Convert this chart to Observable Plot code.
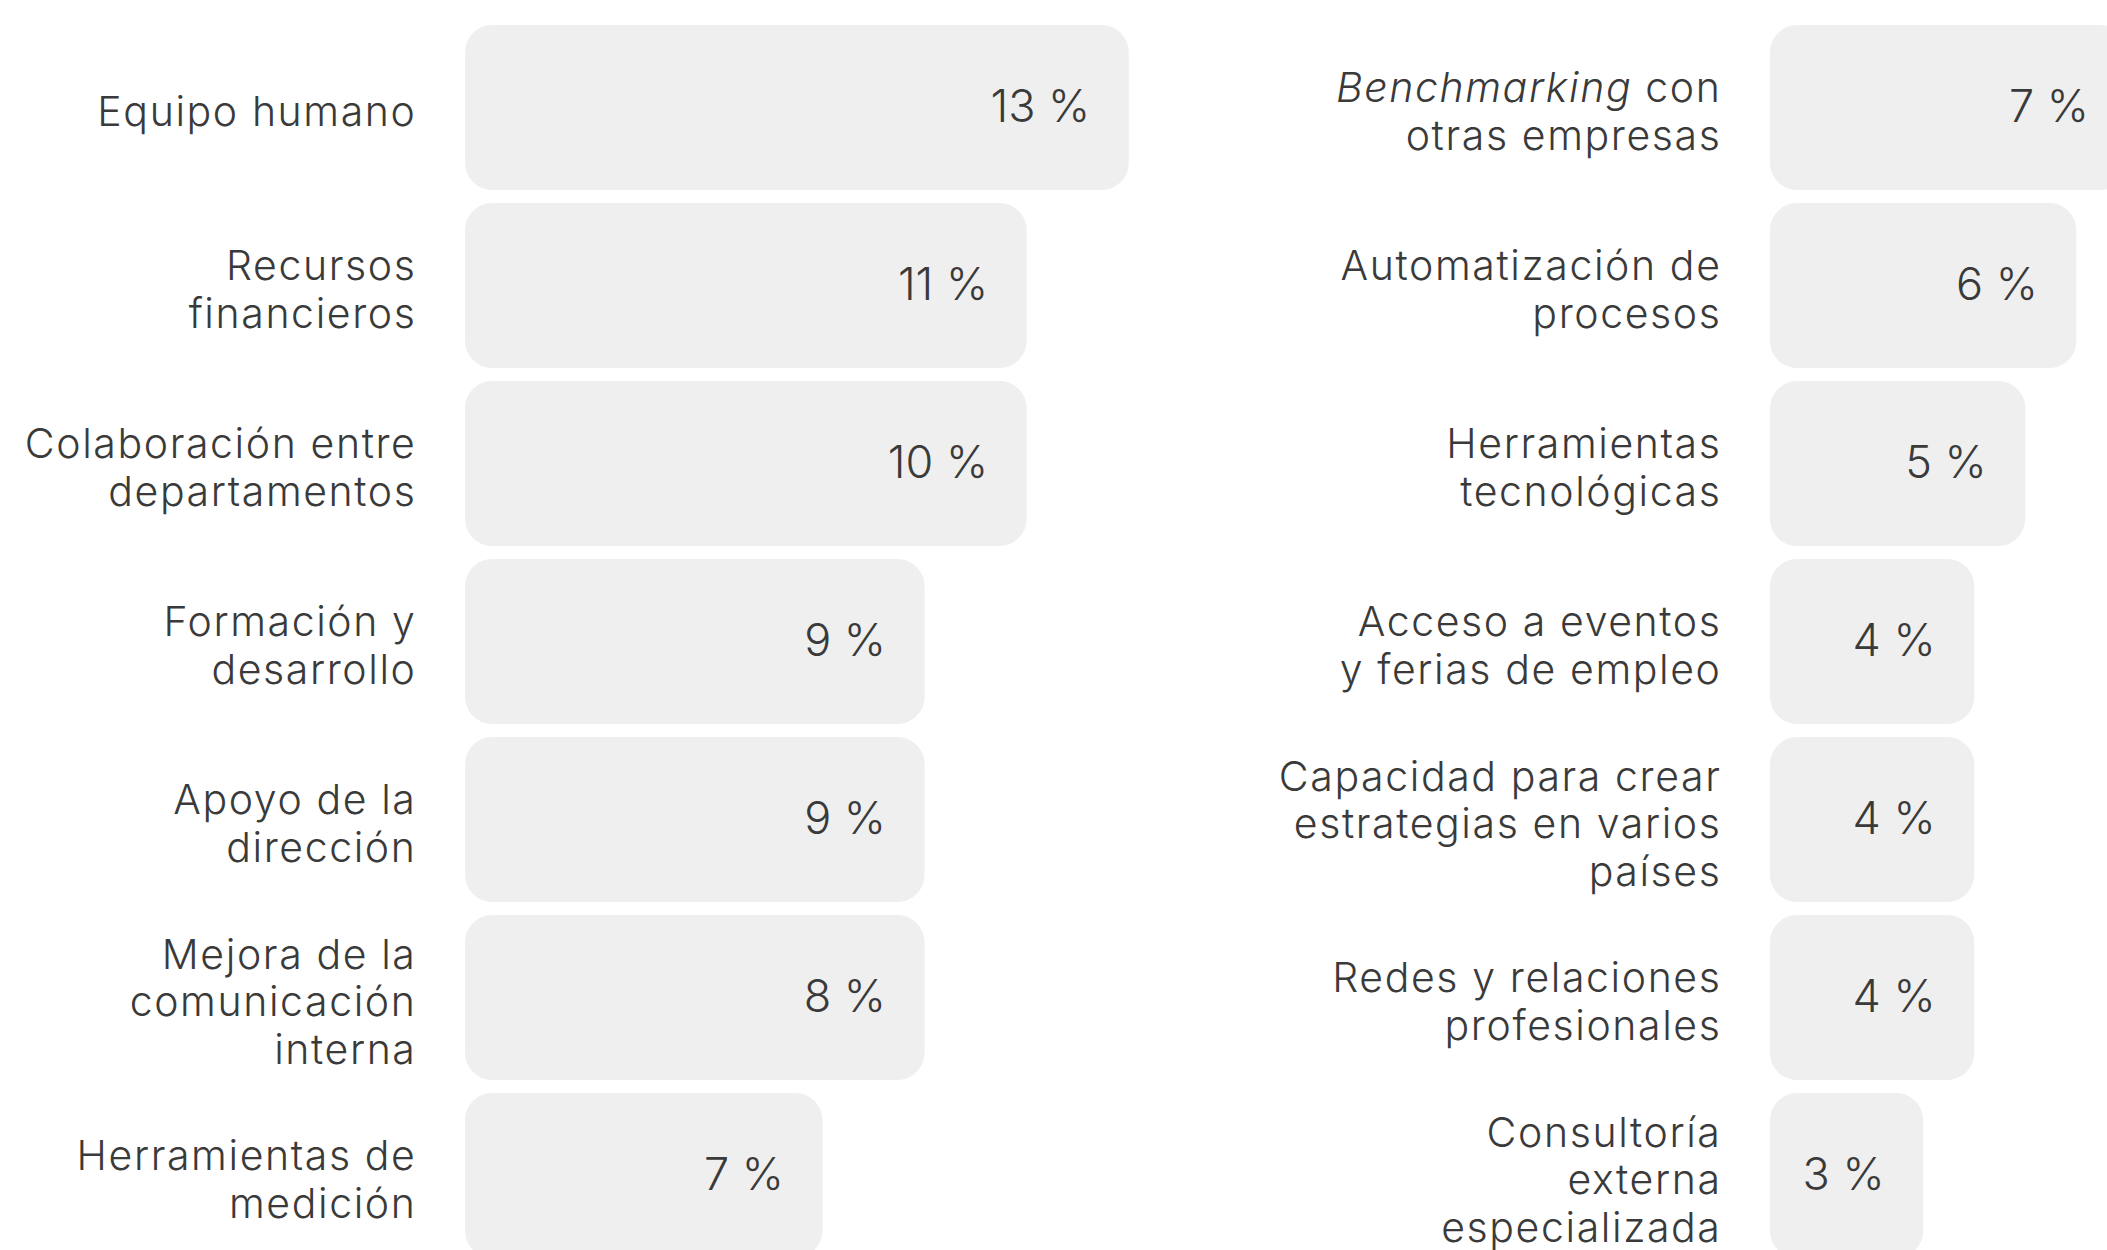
<!DOCTYPE html>
<html><head><meta charset="utf-8">
<script src="https://cdn.jsdelivr.net/npm/d3@7"></script>
<script src="https://cdn.jsdelivr.net/npm/@observablehq/plot@0.6"></script>
<style>
html,body{margin:0;padding:0;background:#fff;overflow:hidden;}
#chart{display:flex;width:2107px;height:1250px;}
#chart svg{overflow:hidden;display:block;}
</style></head><body><div id="chart"></div>
<script>
const leftCategories = ["Equipo humano", "Recursos\nfinancieros", "Colaboración entre\ndepartamentos", "Formación y\ndesarrollo", "Apoyo de la\ndirección", "Mejora de la\ncomunicación\ninterna", "Herramientas de\nmedición"];
const leftValues = [13, 11, 10, 9, 9, 8, 7];
const leftBarLengths = [13, 11, 11, 9, 9, 9, 7];

const rightCategories = ["Benchmarking con\notras empresas", "Automatización de\nprocesos", "Herramientas\ntecnológicas", "Acceso a eventos\ny ferias de empleo", "Capacidad para crear\nestrategias en varios\npaíses", "Redes y relaciones\nprofesionales", "Consultoría\nexterna\nespecializada"];
const rightValues = [7, 6, 5, 4, 4, 4, 3];
const rightBarLengths = [7, 6, 5, 4, 4, 4, 3];

const FONT = "Inter, 'Open Sans', sans-serif";
const TEXT = "#3a3a3a";

function panel(cats, vals, lens, width, marginLeft, xMax) {
  const data = cats.map((c, i) => ({c, v: vals[i], len: lens[i], label: vals[i] + " %"}));
  return Plot.plot({
    width, height: 1250,
    marginLeft, marginRight: 0, marginTop: 0, marginBottom: 0,
    x: {domain: [0, xMax], axis: null},
    y: {domain: cats, range: [9.4, 1273.7], padding: 0.075, axis: null},
    style: {fontFamily: FONT, background: "transparent", overflow: "hidden"},
    marks: [
      Plot.barX(data, {x: "len", y: "c", fill: "#efefef", rx: 27}),
      Plot.text(data, {x: "len", y: "c", text: "label", textAnchor: "end", dx: -39, fontSize: 45, fontWeight: 300, fill: TEXT}),
      Plot.text(data, {frameAnchor: "left", y: "c", text: "c", textAnchor: "end", dx: -49, dy: 3, fontSize: 41, lineHeight: 1.16, fontWeight: 300, fill: TEXT, lineAnchor: "middle"})
    ]
  });
}

const left = panel(leftCategories, leftValues, leftBarLengths, 1150, 465, 685 / 51.06);
const right = panel(rightCategories, rightValues, rightBarLengths, 957, 620, 337 / 51.06);
document.getElementById("chart").append(left, right);

// widen category labels slightly (Poppins-like spacing)
d3.selectAll('#chart g[font-size="41"] text').attr("letter-spacing", "1.6px");

// italicize "Benchmarking"
d3.select(right).selectAll("tspan").each(function() {
  if (this.textContent === "Benchmarking con") {
    const t = d3.select(this);
    t.text("");
    t.append("tspan").attr("font-style", "italic").text("Benchmarking");
    t.append("tspan").text(" con");
  }
});
</script></body></html>
